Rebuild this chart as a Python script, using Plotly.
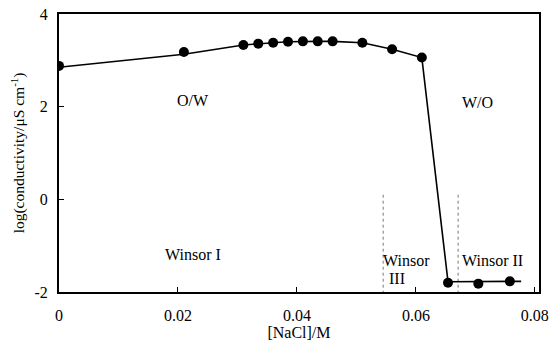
import plotly.graph_objects as go

# Measured conductivity vs. salt concentration
nacl_conc = [0.0, 0.021, 0.031, 0.0335, 0.036, 0.0385, 0.041, 0.0435, 0.046,
             0.051, 0.056, 0.061, 0.0654, 0.0705, 0.0758]
log_cond = [2.88, 3.18, 3.33, 3.36, 3.38, 3.40, 3.41, 3.41, 3.41,
            3.38, 3.24, 3.06, -1.80, -1.82, -1.77]

# Guide line drawn through the measurements
trend_x = [0.0, 0.021, 0.031, 0.0335, 0.036, 0.0385, 0.041, 0.0435, 0.046,
           0.051, 0.056, 0.061, 0.0654, 0.0705, 0.0758, 0.0777]
trend_y = [2.85, 3.13, 3.33, 3.36, 3.38, 3.40, 3.41, 3.41, 3.41,
           3.38, 3.24, 3.06, -1.78, -1.78, -1.77, -1.77]

# Phase boundaries (Winsor III region)
boundary_x = [0.0545, 0.0671]
boundary_top = 0.1

x_ticks = [0, 0.02, 0.04, 0.06, 0.08]
x_tick_text = ["0", "0.02", "0.04", "0.06", "0.08"]
y_ticks = [-2, 0, 2, 4]
y_tick_text = ["-2", "0", "2", "4"]

labels = [
    ("O/W", 0.0225, 2.14),
    ("W/O", 0.0703, 2.08),
    ("Winsor I", 0.0225, -1.20),
    ("Winsor", 0.0585, -1.31),
    ("III", 0.0568, -1.70),
    ("Winsor II", 0.0729, -1.31),
]

FONT = "Liberation Serif, Times New Roman, serif"
FSIZE = 16

fig = go.Figure()

for bx in boundary_x:
    fig.add_trace(go.Scatter(
        x=[bx, bx], y=[boundary_top, -2], mode="lines",
        line=dict(color="#777777", width=1, dash="dot"),
        hoverinfo="skip", showlegend=False))

fig.add_trace(go.Scatter(
    x=trend_x, y=trend_y, mode="lines",
    line=dict(color="black", width=1.6),
    hoverinfo="skip", showlegend=False))

fig.add_trace(go.Scatter(
    x=nacl_conc, y=log_cond, mode="markers",
    marker=dict(color="black", size=10),
    showlegend=False))

for text, lx, ly in labels:
    fig.add_annotation(x=lx, y=ly, text=text, showarrow=False,
                       font=dict(family=FONT, size=FSIZE, color="black"))

fig.update_xaxes(
    range=[0, 0.0807], tickvals=x_ticks, ticktext=x_tick_text,
    ticks="inside", ticklen=5, tickwidth=1, tickcolor="black",
    ticklabelstandoff=8, automargin=False,
    showline=True, linecolor="black", linewidth=2, mirror=True,
    showgrid=False, zeroline=False,
    tickfont=dict(family=FONT, size=FSIZE, color="black"),
    title=dict(text="[NaCl]/M", font=dict(family=FONT, size=FSIZE, color="black"),
               standoff=4),
)
fig.update_yaxes(
    range=[-2, 4], tickvals=y_ticks, ticktext=y_tick_text,
    ticks="inside", ticklen=5, tickwidth=1, tickcolor="black",
    ticklabelstandoff=6, automargin=False,
    showline=True, linecolor="black", linewidth=2, mirror=True,
    showgrid=False, zeroline=False,
    tickfont=dict(family=FONT, size=FSIZE, color="black"),
    title=dict(text="log(conductivity/μS cm<sup>-1</sup>)",
               font=dict(family=FONT, size=15.5, color="black"), standoff=6),
)

fig.update_layout(
    width=559, height=347,
    margin=dict(l=59, r=20, t=14, b=55),
    paper_bgcolor="white", plot_bgcolor="white",
)

fig.write_html("out.html")
